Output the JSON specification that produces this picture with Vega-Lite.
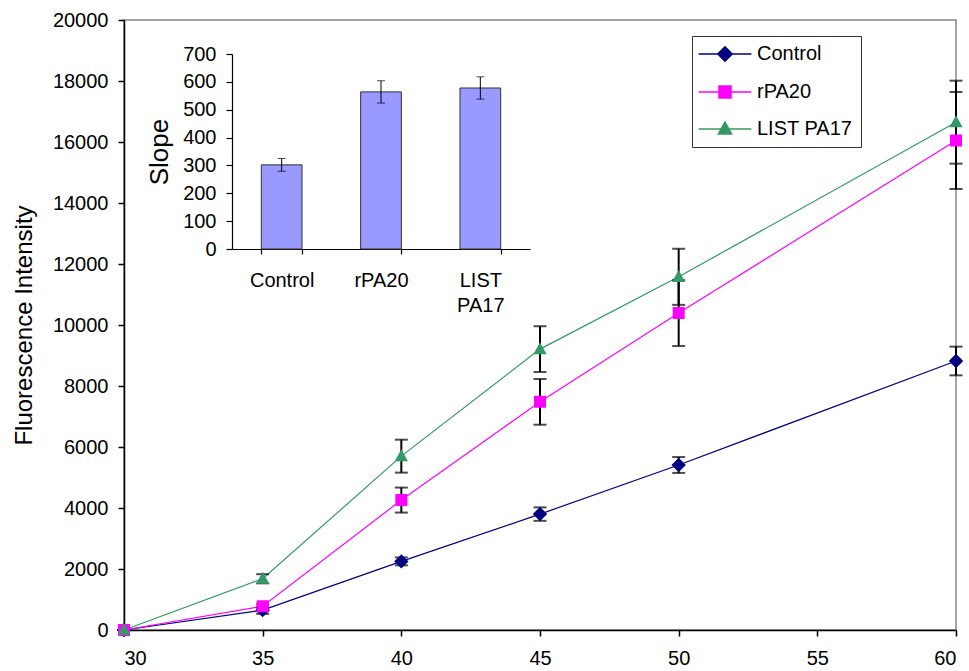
{
  "$schema": "https://vega.github.io/schema/vega-lite/v6.json",
  "autosize": {"type": "none"},
  "padding": {"left": 124, "top": 20, "right": 13, "bottom": 41},
  "width": 832,
  "height": 610,
  "background": "white",
  "config": {
    "font": "Liberation Sans",
    "view": {"stroke": "#888888", "strokeWidth": 1.5},
    "axis": {"grid": false, "domainColor": "black", "tickColor": "black", "labelColor": "black", "titleColor": "black", "titleFontWeight": "normal", "labelFont": "Liberation Sans", "titleFont": "Liberation Sans"},
    "legend": {"labelFont": "Liberation Sans", "labelFontSize": 20, "labelColor": "black"}
  },
  "datasets": {
    "series": [
      {"series": "Control", "t": 30, "v": 0, "e": 0},
      {"series": "Control", "t": 35, "v": 650, "e": 120},
      {"series": "Control", "t": 40, "v": 2250, "e": 130},
      {"series": "Control", "t": 45, "v": 3800, "e": 220},
      {"series": "Control", "t": 50, "v": 5410, "e": 260},
      {"series": "Control", "t": 60, "v": 8820, "e": 470},
      {"series": "rPA20", "t": 30, "v": 0, "e": 0},
      {"series": "rPA20", "t": 35, "v": 780, "e": 80},
      {"series": "rPA20", "t": 40, "v": 4260, "e": 410},
      {"series": "rPA20", "t": 45, "v": 7480, "e": 750},
      {"series": "rPA20", "t": 50, "v": 10390, "e": 1080},
      {"series": "rPA20", "t": 60, "v": 16050, "e": 1590},
      {"series": "LIST PA17", "t": 30, "v": 0, "e": 0},
      {"series": "LIST PA17", "t": 35, "v": 1680, "e": 150},
      {"series": "LIST PA17", "t": 40, "v": 5700, "e": 540},
      {"series": "LIST PA17", "t": 45, "v": 9210, "e": 750},
      {"series": "LIST PA17", "t": 50, "v": 11580, "e": 920},
      {"series": "LIST PA17", "t": 60, "v": 16650, "e": 1360}
    ],
    "slope": [
      {"group": "Control", "slope": 302, "e": 23},
      {"group": "rPA20", "slope": 564, "e": 40},
      {"group": "LIST PA17", "slope": 578, "e": 40}
    ]
  },
  "layer": [
    {
      "data": {"name": "series"},
      "encoding": {
        "x": {"field": "t", "type": "quantitative", "scale": {"domain": [30, 60], "nice": false, "zero": false},
          "axis": {"orient": "bottom", "values": [30, 35, 40, 45, 50, 55, 60], "title": null, "labelFontSize": 20, "tickSize": 6, "labelPadding": 12, "domainWidth": 1.5, "tickWidth": 1.5}},
        "y": {"field": "v", "type": "quantitative", "scale": {"domain": [0, 20000], "nice": false},
          "axis": {"orient": "left", "values": [0, 2000, 4000, 6000, 8000, 10000, 12000, 14000, 16000, 18000, 20000], "format": "d", "title": "Fluorescence Intensity", "titleFontSize": 24, "titlePadding": 16, "labelFontSize": 20, "tickSize": 6, "labelPadding": 10, "domainWidth": 1.5, "tickWidth": 1.5}}
      },
      "layer": [
        {
          "mark": {"type": "line", "strokeWidth": 1.2},
          "encoding": {
            "color": {"field": "series", "type": "nominal", "sort": ["Control", "rPA20", "LIST PA17"], "scale": {"domain": ["Control", "rPA20", "LIST PA17"], "range": ["#000080", "#FF00FF", "#339966"]},
              "legend": {"orient": "none", "legendX": 568, "legendY": 16, "title": null}}
          }
        },
        {
          "mark": {"type": "errorbar", "ticks": {"size": 13, "thickness": 2}, "thickness": 2, "color": "black"},
          "encoding": {
            "yError": {"field": "e"}
          }
        },
        {
          "mark": {"type": "point", "filled": true, "opacity": 1, "strokeWidth": 0, "size": 144},
          "encoding": {
            "color": {"field": "series", "type": "nominal", "sort": ["Control", "rPA20", "LIST PA17"],
              "legend": {"orient": "none", "legendX": 568, "legendY": 16, "title": null}},
            "shape": {"field": "series", "type": "nominal", "sort": ["Control", "rPA20", "LIST PA17"],
              "scale": {"domain": ["Control", "rPA20", "LIST PA17"], "range": ["M-4.4,0H4.4M0,-1.2L1.2,0L0,1.2L-1.2,0Z", "M-4.4,0H4.4M-1,-1H1V1H-1Z", "M-4.4,0H4.4M0,-1.15L1.1,0.85H-1.1Z"]},
              "legend": {"orient": "none", "legendX": 568, "legendY": 16, "title": null, "labelFontSize": 20, "labelColor": "black", "strokeColor": "#333333", "padding": 8, "rowPadding": 17, "symbolSize": 144, "symbolOffset": 15, "labelOffset": 22, "offset": 0,
                "encode": {"symbols": {"update": {"stroke": {"scale": "color", "field": "value"}, "strokeWidth": {"value": 1}, "opacity": {"value": 1}}}}}}
          }
        }
      ]
    },
    {
      "data": {"name": "slope"},
      "encoding": {
        "x": {"field": "group", "type": "nominal", "sort": ["Control", "rPA20", "LIST PA17"],
          "scale": {"range": [108, 406], "paddingInner": 0.59, "paddingOuter": 0.295},
          "axis": {"orient": "bottom", "offset": -381, "title": null, "labelAngle": 0, "labelFontSize": 20, "labelPadding": 16, "tickSize": 5, "tickBand": "extent", "domainWidth": 1.2, "tickWidth": 1.2,
            "labelExpr": "datum.label == 'LIST PA17' ? ['LIST', 'PA17'] : datum.label", "labelLineHeight": 25, "labelBaseline": "top"}},
        "y": {"field": "slope", "type": "quantitative", "scale": {"domain": [0, 700], "range": [229, 34], "nice": false},
          "axis": {"orient": "left", "offset": -108, "values": [0, 100, 200, 300, 400, 500, 600, 700], "title": "Slope", "titleFontSize": 26, "titlePadding": 10, "labelFontSize": 20, "tickSize": 6, "labelPadding": 10, "domainWidth": 1.2, "tickWidth": 1.2}}
      },
      "layer": [
        {"mark": {"type": "bar", "color": "#9999FF", "stroke": "#333333", "strokeWidth": 1}},
        {"mark": {"type": "errorbar", "ticks": {"size": 8, "thickness": 1}, "thickness": 1, "color": "black"},
          "encoding": {"yError": {"field": "e"}}}
      ]
    }
  ],
  "resolve": {"scale": {"x": "independent", "y": "independent"}, "axis": {"x": "independent", "y": "independent"}}
}
